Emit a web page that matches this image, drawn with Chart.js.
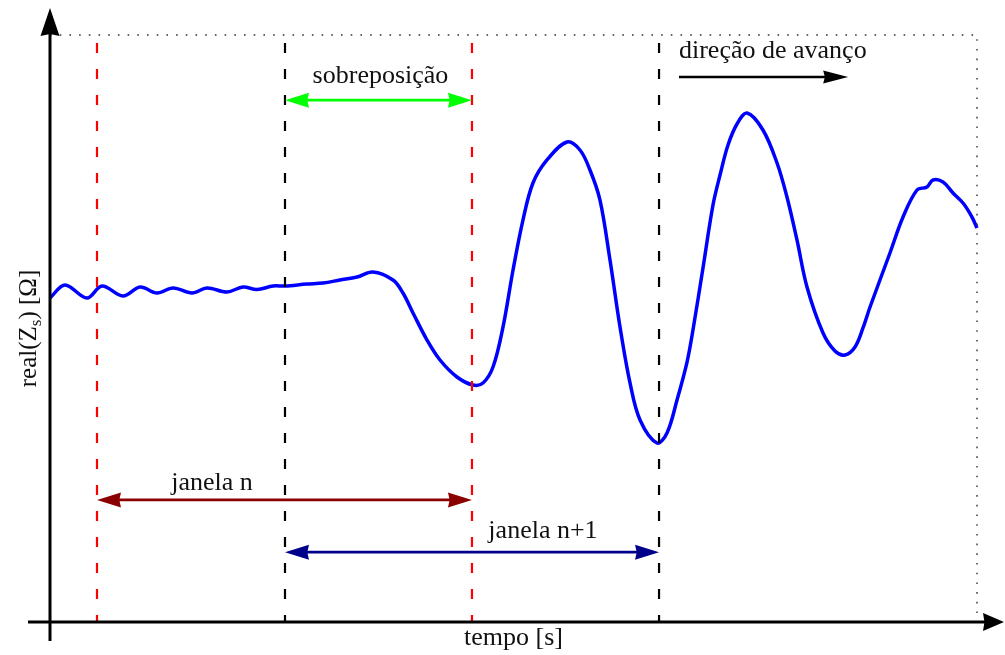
<!DOCTYPE html>
<html>
<head>
<meta charset="utf-8">
<script src="https://cdn.jsdelivr.net/npm/chart.js@4/dist/chart.umd.min.js"></script>
<style>
  html, body { margin: 0; padding: 0; background: #fff; }
  canvas { display: block; }
</style>
</head>
<body>
<canvas id="myChart" width="1005" height="655"></canvas>
<script>
// sampled signal: time [s] and real(Zs) [arbitrary units]
const TIME = [
  0.000, 0.162, 0.399, 0.561, 0.787, 0.971, 1.154, 1.327, 1.532, 1.694,
  1.909, 2.082, 2.233, 2.406, 2.535, 2.772, 2.945, 3.128, 3.312, 3.484,
  3.700, 3.808, 3.916, 4.067, 4.207, 4.390, 4.563, 4.671, 4.779, 4.887,
  4.995, 5.102, 5.210, 5.361, 5.577, 5.717, 5.825, 5.933, 6.041, 6.149,
  6.257, 6.365, 6.548, 6.656, 6.764, 6.872, 6.936, 7.044, 7.152, 7.228,
  7.314, 7.411, 7.519, 7.691, 7.843, 7.950, 8.058, 8.166, 8.339, 8.468,
  8.576, 8.684, 8.770, 8.846, 9.061, 9.202, 9.353, 9.461, 9.525, 9.633,
  9.741, 9.849, 9.946, 10.000
];
const REAL_Z = [
  5.520, 5.741, 5.520, 5.724, 5.554, 5.707, 5.605, 5.690, 5.605, 5.690,
  5.622, 5.707, 5.664, 5.724, 5.724, 5.758, 5.775, 5.826, 5.877, 5.963,
  5.826, 5.605, 5.264, 4.804, 4.463, 4.174, 4.037, 4.072, 4.344, 5.026,
  5.997, 6.848, 7.479, 7.871, 8.177, 8.041, 7.700, 7.189, 6.167, 5.026,
  4.072, 3.441, 3.049, 3.220, 3.782, 4.429, 4.974, 6.031, 7.104, 7.615,
  8.126, 8.484, 8.671, 8.382, 7.819, 7.240, 6.508, 5.707, 4.923, 4.617,
  4.549, 4.685, 5.009, 5.366, 6.286, 6.899, 7.359, 7.411, 7.530, 7.496,
  7.308, 7.138, 6.899, 6.712
];

// window boundaries (start of n, start of n+1, end of n, end of n+1)
const WINDOW_EDGES = [0.507, 2.535, 4.552, 6.570];
const EDGE_COLORS = ["#ff0000", "#000000", "#ff0000", "#000000"];

const T_MAX = 10;
const V_MAX = 10;

// heights (in value units) of the annotation arrows
const OVERLAP_LEVEL = 8.89;
const WINDOW_N_LEVEL = 2.08;
const WINDOW_N1_LEVEL = 1.19;
const DIRECTION_LEVEL = 9.285;
const DIRECTION_FROM = 6.785;
const DIRECTION_TO = 8.61;

const FONT = '26px "Liberation Serif", "Times New Roman", serif';

const datasets = [];

WINDOW_EDGES.forEach((t, i) => {
  datasets.push({
    data: [{ x: t, y: V_MAX }, { x: t, y: 0 }],
    borderColor: EDGE_COLORS[i],
    borderWidth: 2.2,
    borderDash: [10, 16],
    borderDashOffset: 18,
    pointRadius: 0,
    clip: false,
  });
});

// dotted frame on top and right
datasets.push({
  data: [{ x: 0, y: V_MAX }, { x: T_MAX, y: V_MAX }, { x: T_MAX, y: 0 }],
  borderColor: "#333",
  borderWidth: 1.4,
  borderDash: [1.6, 8.1],
  pointRadius: 0,
  clip: false,
});

datasets.push({
  data: TIME.map((t, i) => ({ x: t, y: REAL_Z[i] })),
  borderColor: "#0000ff",
  borderWidth: 3.5,
  pointRadius: 0,
  tension: 0.35,
  clip: false,
});

function arrowHead(ctx, tx, ty, dx, dy, len, half, color) {
  const bx = tx - dx * len, by = ty - dy * len;
  const nx = tx - dx * len * 0.93, ny = ty - dy * len * 0.93;
  const px = -dy, py = dx;
  ctx.fillStyle = color;
  ctx.beginPath();
  ctx.moveTo(tx, ty);
  ctx.lineTo(bx + px * half, by + py * half);
  ctx.lineTo(nx, ny);
  ctx.lineTo(bx - px * half, by - py * half);
  ctx.closePath();
  ctx.fill();
}

function doubleArrow(ctx, x1, x2, y, color, width) {
  ctx.strokeStyle = color;
  ctx.lineWidth = width;
  ctx.beginPath();
  ctx.moveTo(x1 + 10, y);
  ctx.lineTo(x2 - 10, y);
  ctx.stroke();
  arrowHead(ctx, x1, y, -1, 0, 24, 7.5, color);
  arrowHead(ctx, x2, y, 1, 0, 24, 7.5, color);
}

const annotations = {
  id: "annotations",
  afterDraw(chart) {
    const ctx = chart.ctx;
    const xs = chart.scales.x, ys = chart.scales.y;
    const X = (v) => xs.getPixelForValue(v);
    const Y = (v) => ys.getPixelForValue(v);
    ctx.save();

    // axes with arrow tips
    const ox = X(0), oy = Y(0);
    ctx.strokeStyle = "#000";
    ctx.lineWidth = 3;
    ctx.beginPath();
    ctx.moveTo(ox - 22, oy);
    ctx.lineTo(chart.width - 12, oy);
    ctx.moveTo(ox, oy + 19);
    ctx.lineTo(ox, 20);
    ctx.stroke();
    arrowHead(ctx, chart.width - 1, oy, 1, 0, 21, 9, "#000");
    arrowHead(ctx, ox, 8, 0, -1, 28, 9.5, "#000");

    // window arrows
    const e = WINDOW_EDGES.map(X);
    doubleArrow(ctx, e[1], e[2], Y(OVERLAP_LEVEL), "#00ff00", 2.6);
    doubleArrow(ctx, e[0], e[2], Y(WINDOW_N_LEVEL), "#8b0000", 2.6);
    doubleArrow(ctx, e[1], e[3], Y(WINDOW_N1_LEVEL), "#00008b", 2.6);

    // direction arrow
    const dy = Y(DIRECTION_LEVEL);
    ctx.strokeStyle = "#000";
    ctx.lineWidth = 2.5;
    ctx.beginPath();
    ctx.moveTo(X(DIRECTION_FROM), dy);
    ctx.lineTo(X(DIRECTION_TO) - 10, dy);
    ctx.stroke();
    arrowHead(ctx, X(DIRECTION_TO), dy, 1, 0, 25, 6.5, "#000");

    // labels
    ctx.fillStyle = "#111";
    ctx.font = FONT;
    ctx.textBaseline = "alphabetic";
    ctx.textAlign = "center";
    ctx.fillText("sobreposição", (e[1] + e[2]) / 2 + 2, Y(OVERLAP_LEVEL) - 17);
    ctx.fillText("janela n", X(1.748), Y(WINDOW_N_LEVEL) - 10);
    ctx.fillText("janela n+1", X(5.318), Y(WINDOW_N1_LEVEL) - 14);
    ctx.fillText("tempo [s]", (X(0) + X(T_MAX)) / 2, oy + 23);
    ctx.textAlign = "left";
    ctx.fillText("direção de avanço", X(DIRECTION_FROM), dy - 19);

    // rotated y label with subscript
    ctx.font = '25px "Liberation Serif", "Times New Roman", serif';
    ctx.translate(36, (Y(0) + Y(V_MAX)) / 2);
    ctx.rotate(-Math.PI / 2);
    const a = "real(Z", b = "s", c = ") [Ω]";
    const big = ctx.font;
    const small = '17px "Liberation Serif", "Times New Roman", serif';
    const wa = ctx.measureText(a).width, wc = ctx.measureText(c).width;
    ctx.font = small;
    const wb = ctx.measureText(b).width;
    const x0 = -(wa + wb + wc) / 2;
    ctx.font = big;
    ctx.fillText(a, x0, 0);
    ctx.font = small;
    ctx.fillText(b, x0 + wa, 5);
    ctx.font = big;
    ctx.fillText(c, x0 + wa + wb, 0);

    ctx.restore();
  },
};

new Chart(document.getElementById("myChart").getContext("2d"), {
  type: "line",
  data: { datasets },
  options: {
    responsive: false,
    animation: false,
    devicePixelRatio: 1,
    layout: { padding: { left: 50, right: 28, top: 35, bottom: 33 } },
    plugins: { legend: { display: false }, tooltip: { enabled: false } },
    scales: {
      x: { type: "linear", min: 0, max: T_MAX, display: false },
      y: { type: "linear", min: 0, max: V_MAX, display: false },
    },
  },
  plugins: [annotations],
});
</script>
</body>
</html>
